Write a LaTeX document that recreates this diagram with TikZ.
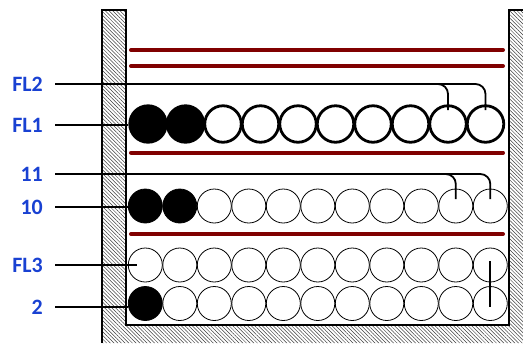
\documentclass[tikz,border=0pt]{standalone}
\usepackage{fontspec}
\newfontfamily\tagfont{Carlito}
\usepackage{xcolor}
\usepackage{tikz}
\usetikzlibrary{patterns.meta}
\definecolor{railred}{RGB}{128,0,0}
\definecolor{tagblue}{RGB}{25,65,210}
\tikzset{
  wall/.style={pattern={Lines[angle=-45,distance=2.6bp,line width=0.5bp]},pattern color=black!75},
  rail/.style={railred,line width=4bp,line cap=round},
  bigball/.style={circle,draw,line width=2.8bp,minimum size=36.5bp,inner sep=0pt},
  ball/.style={circle,draw,line width=0.8bp,minimum size=34bp,inner sep=0pt},
  tag/.style={anchor=east,inner sep=0pt,text=tagblue,font=\tagfont\bfseries\fontsize{22}{26}\selectfont},
  lead/.style={line width=1.8bp}
}

\begin{document}
\begin{tikzpicture}[x=1bp,y=-1bp]
  \useasboundingbox (0,0) rectangle (523,343);

  % ---- Container walls ----
  \fill[wall] (102,10) -- (126,10) -- (126,325) -- (509,325) -- (509,10) -- (523,10)
    -- (523,343) -- (102,343) -- cycle;
  \draw[line width=1.3bp] (102,343) -- (102,10) -- (126,10) -- (126,325) -- (509,325)
    -- (509,10) -- (523,10);

  % ---- Rails ----
  \draw[rail] (131,50) -- (503,50);
  \draw[rail] (131,66) -- (503,66);
  \draw[rail] (131,152.7) -- (503,152.7);
  \draw[rail] (131,234) -- (503,234);

  % ---- Balls ----
  \foreach \i in {1,...,10}{
    \ifnum\i<3 \def\f{black}\else\def\f{white}\fi
    \node[bigball,fill=\f] (a\i) at ({148+37.5*(\i-1)},124) {};
  }
  \foreach \i in {1,...,11}{
    \ifnum\i<3 \def\f{black}\else\def\f{white}\fi
    \node[ball,fill=\f] (b\i) at ({145.3+34.5*(\i-1)},206) {};
    \node[ball,fill=white] (c\i) at ({145.3+34.5*(\i-1)},265) {};
    \ifnum\i<2 \def\f{black}\else\def\f{white}\fi
    \node[ball,fill=\f] (d\i) at ({145.3+34.5*(\i-1)},303.5) {};
  }

  % ---- Labels ----
  \node[tag] (fl2) at (43,84) {FL2};
  \node[tag] (fl1) at (43,125) {FL1};
  \node[tag] (eleven) at (43,174) {11};
  \node[tag] (ten) at (43,207) {10};
  \node[tag] (fl3) at (43,265) {FL3};
  \node[tag] (two) at (43,307) {2};

  % ---- Leaders ----
  \draw[lead,rounded corners=10bp] ([xshift=12bp]fl2.east) -| ([yshift=14bp]a9.center);
  \draw[lead,rounded corners=10bp] ([xshift=12bp]fl2.east) -| ([yshift=14bp]a10.center);
  \draw[lead] ([xshift=12bp]fl1.east) -- (fl1.east -| a1.west);
  \draw[lead,rounded corners=10bp] ([xshift=12bp]eleven.east) -| ([yshift=7bp]b10.center);
  \draw[lead,rounded corners=10bp] ([xshift=12bp]eleven.east) -| ([yshift=7bp]b11.center);
  \draw[lead] ([xshift=12bp]ten.east) -- (ten.east -| b1.west);
  \draw[lead] ([xshift=12bp]fl3.east) -- ([xshift=-8bp]c1.center);
  \draw[lead] ([xshift=12bp]two.east) -- (two.east -| d1.west);
  \draw[lead] ([yshift=4bp]c11.center) -- ([yshift=-3bp]d11.center);
\end{tikzpicture}
\end{document}
